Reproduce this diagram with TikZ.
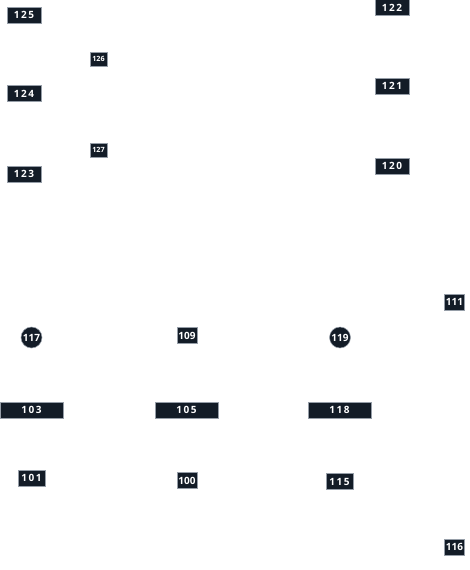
\documentclass[tikz,border=0pt]{standalone}
\usepackage{fontspec}
\setsansfont{Open Sans}
\usepackage{tikz}
\definecolor{navy}{RGB}{19,28,39}
\definecolor{rim}{RGB}{150,158,168}

\begin{document}
\begin{tikzpicture}[x=1pt, y=-1pt,
  tag/.style={rectangle, fill=navy, draw=rim, line width=0.5pt, inner sep=0pt,
    text=white, font=\sffamily\bfseries\fontsize{10}{10}\selectfont\addfontfeature{LetterSpace=16}},
  wide/.style={tag, minimum width=34pt, minimum height=16pt},
  long/.style={tag, minimum width=63pt, minimum height=16pt},
  mid/.style={tag, minimum width=27pt, minimum height=16pt},
  tiny/.style={tag, minimum width=17pt, minimum height=14pt,
    font=\sffamily\bfseries\fontsize{7.2}{7.2}\selectfont},
  square/.style={tag, minimum width=20pt, minimum height=16pt,
    font=\sffamily\bfseries\fontsize{10}{10}\selectfont},
  dot/.style={tag, circle, minimum size=21pt,
    font=\sffamily\bfseries\fontsize{10}{10}\selectfont}]
\useasboundingbox (0,0) rectangle (470,570);

% left column
\node[wide] (l125) at (24,15) {125};
\node[tiny] (l126) at (98.5,59) {126};
\node[wide] (l124) at (24,93.5) {124};
\node[tiny] (l127) at (98.5,150) {127};
\node[wide] (l123) at (24,174) {123};

% right column
\node[wide] (l122) at (392,7.5) {122};
\node[wide] (l121) at (392,86) {121};
\node[wide] (l120) at (392,166) {120};

% middle rows
\node[square] (l111) at (454.5,302) {111};
\node[dot] (l117) at (31.5,337.5) {117};
\node[square] (l109) at (187,335.5) {109};
\node[dot] (l119) at (340,337.5) {119};

\node[long] (l103) at (31.5,410) {103};
\node[long] (l105) at (186.5,410) {105};
\node[long] (l118) at (339.5,410) {118};

% bottom rows
\node[mid] (l101) at (31.5,478) {101};
\node[square] (l100) at (187,480.5) {100};
\node[mid] (l115) at (339.5,481.5) {115};
\node[square] (l116) at (454.5,547) {116};
\end{tikzpicture}
\end{document}
